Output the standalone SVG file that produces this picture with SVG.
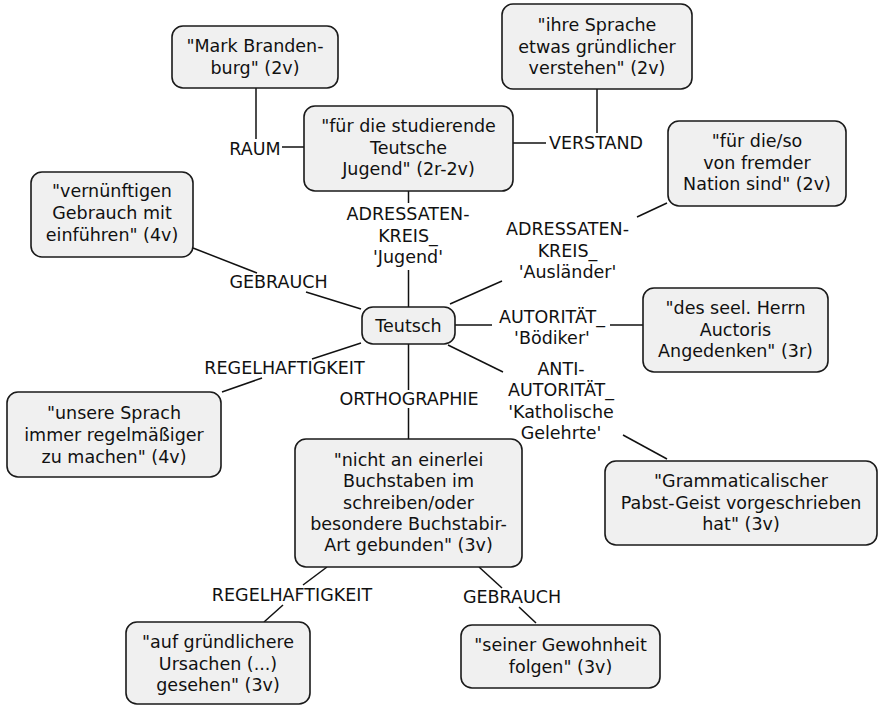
<svg xmlns="http://www.w3.org/2000/svg" width="878" height="705" viewBox="0 0 878 705">
<style>
.n rect{fill:#f0f0f0;stroke:#1a1a1a;stroke-width:1.6}
text{font-family:"DejaVu Sans",Verdana,sans-serif;font-size:17.5px;fill:#111;text-anchor:middle}
#connectors line{stroke:#111;stroke-width:1.5}
</style>
<rect width="878" height="705" fill="#fff"/>
<g id="connectors">
<line x1="256" y1="88" x2="256" y2="139"/>
<line x1="282" y1="147" x2="304" y2="147"/>
<line x1="597" y1="89" x2="597" y2="133"/>
<line x1="513" y1="143" x2="546" y2="143"/>
<line x1="408.5" y1="191" x2="408.5" y2="203"/>
<line x1="408.5" y1="270" x2="408.5" y2="307"/>
<line x1="193" y1="248" x2="257" y2="273"/>
<line x1="306" y1="292" x2="361" y2="309"/>
<line x1="450" y1="304" x2="502" y2="281"/>
<line x1="637" y1="217" x2="667" y2="203"/>
<line x1="455" y1="325" x2="492" y2="325"/>
<line x1="610" y1="325" x2="643" y2="325"/>
<line x1="361" y1="343" x2="312" y2="359"/>
<line x1="262" y1="378" x2="222" y2="392"/>
<line x1="408.5" y1="344" x2="408.5" y2="390"/>
<line x1="408.5" y1="408" x2="408.5" y2="439"/>
<line x1="448" y1="345" x2="503" y2="372"/>
<line x1="623" y1="435" x2="667" y2="459"/>
<line x1="327" y1="567" x2="303" y2="585"/>
<line x1="283" y1="605" x2="264" y2="622"/>
<line x1="479" y1="567" x2="502" y2="588"/>
<line x1="519" y1="607" x2="536" y2="623"/>
</g>
<g id="labels">
<text x="255" y="155">RAUM</text>
<text x="596" y="149">VERSTAND</text>
<text x="408" y="220">ADRESSATEN-</text>
<text x="408" y="242">KREIS_</text>
<text x="408" y="263">'Jugend'</text>
<text x="567.5" y="235">ADRESSATEN-</text>
<text x="567.5" y="256.5">KREIS_</text>
<text x="567.5" y="278">'Ausländer'</text>
<text x="278.5" y="288">GEBRAUCH</text>
<text x="552" y="323">AUTORITÄT_</text>
<text x="552" y="344">'Bödiker'</text>
<text x="284.5" y="374">REGELHAFTIGKEIT</text>
<text x="409" y="405">ORTHOGRAPHIE</text>
<text x="561" y="375">ANTI-</text>
<text x="561" y="396">AUTORITÄT_</text>
<text x="561" y="417.5">'Katholische</text>
<text x="561" y="439">Gelehrte'</text>
<text x="292" y="601">REGELHAFTIGKEIT</text>
<text x="512" y="603">GEBRAUCH</text>
</g>
<g id="n-mark" class="n"><rect x="172" y="26" width="166" height="62" rx="11"/>
<text x="255" y="52">"Mark Branden-</text><text x="255" y="74">burg" (2v)</text></g>
<g id="n-verstehen" class="n"><rect x="502" y="4" width="190" height="85" rx="11"/>
<text x="597" y="31">"ihre Sprache</text><text x="597" y="52.5">etwas gründlicher</text><text x="597" y="74">verstehen" (2v)</text></g>
<g id="n-jugend" class="n"><rect x="304" y="106" width="209" height="85" rx="11"/>
<text x="408.5" y="132">"für die studierende</text><text x="408.5" y="153.5">Teutsche</text><text x="408.5" y="175">Jugend" (2r-2v)</text></g>
<g id="n-nation" class="n"><rect x="668" y="121" width="178" height="85" rx="11"/>
<text x="757" y="147">"für die/so</text><text x="757" y="168.5">von fremder</text><text x="757" y="190">Nation sind" (2v)</text></g>
<g id="n-gebrauch" class="n"><rect x="31" y="172" width="162" height="85" rx="11"/>
<text x="112" y="197">"vernünftigen</text><text x="112" y="219">Gebrauch mit</text><text x="112" y="241">einführen" (4v)</text></g>
<g id="n-teutsch" class="n"><rect x="362" y="307" width="93" height="37" rx="11"/>
<text x="408.5" y="332">Teutsch</text></g>
<g id="n-auctoris" class="n"><rect x="643" y="288" width="185" height="84" rx="11"/>
<text x="735.5" y="314">"des seel. Herrn</text><text x="735.5" y="336">Auctoris</text><text x="735.5" y="357">Angedenken" (3r)</text></g>
<g id="n-regel" class="n"><rect x="7" y="392" width="214" height="85" rx="11"/>
<text x="114" y="418.5">"unsere Sprach</text><text x="114" y="440.5">immer regelmäßiger</text><text x="114" y="462.5">zu machen" (4v)</text></g>
<g id="n-buchstaben" class="n"><rect x="295" y="439" width="227" height="128" rx="11"/>
<text x="408.5" y="466">"nicht an einerlei</text><text x="408.5" y="487">Buchstaben im</text><text x="408.5" y="508.5">schreiben/oder</text><text x="408.5" y="530">besondere Buchstabir-</text><text x="408.5" y="551">Art gebunden" (3v)</text></g>
<g id="n-pabst" class="n"><rect x="605" y="461" width="272" height="84" rx="11"/>
<text x="741" y="487">"Grammaticalischer</text><text x="741" y="508.5">Pabst-Geist vorgeschrieben</text><text x="741" y="530">hat" (3v)</text></g>
<g id="n-ursachen" class="n"><rect x="126" y="622" width="184" height="82" rx="11"/>
<text x="218" y="648">"auf gründlichere</text><text x="218" y="670">Ursachen (...)</text><text x="218" y="691">gesehen" (3v)</text></g>
<g id="n-gewohnheit" class="n"><rect x="461" y="625" width="199" height="63" rx="11"/>
<text x="560.5" y="651">"seiner Gewohnheit</text><text x="560.5" y="673">folgen" (3v)</text></g>
</svg>
